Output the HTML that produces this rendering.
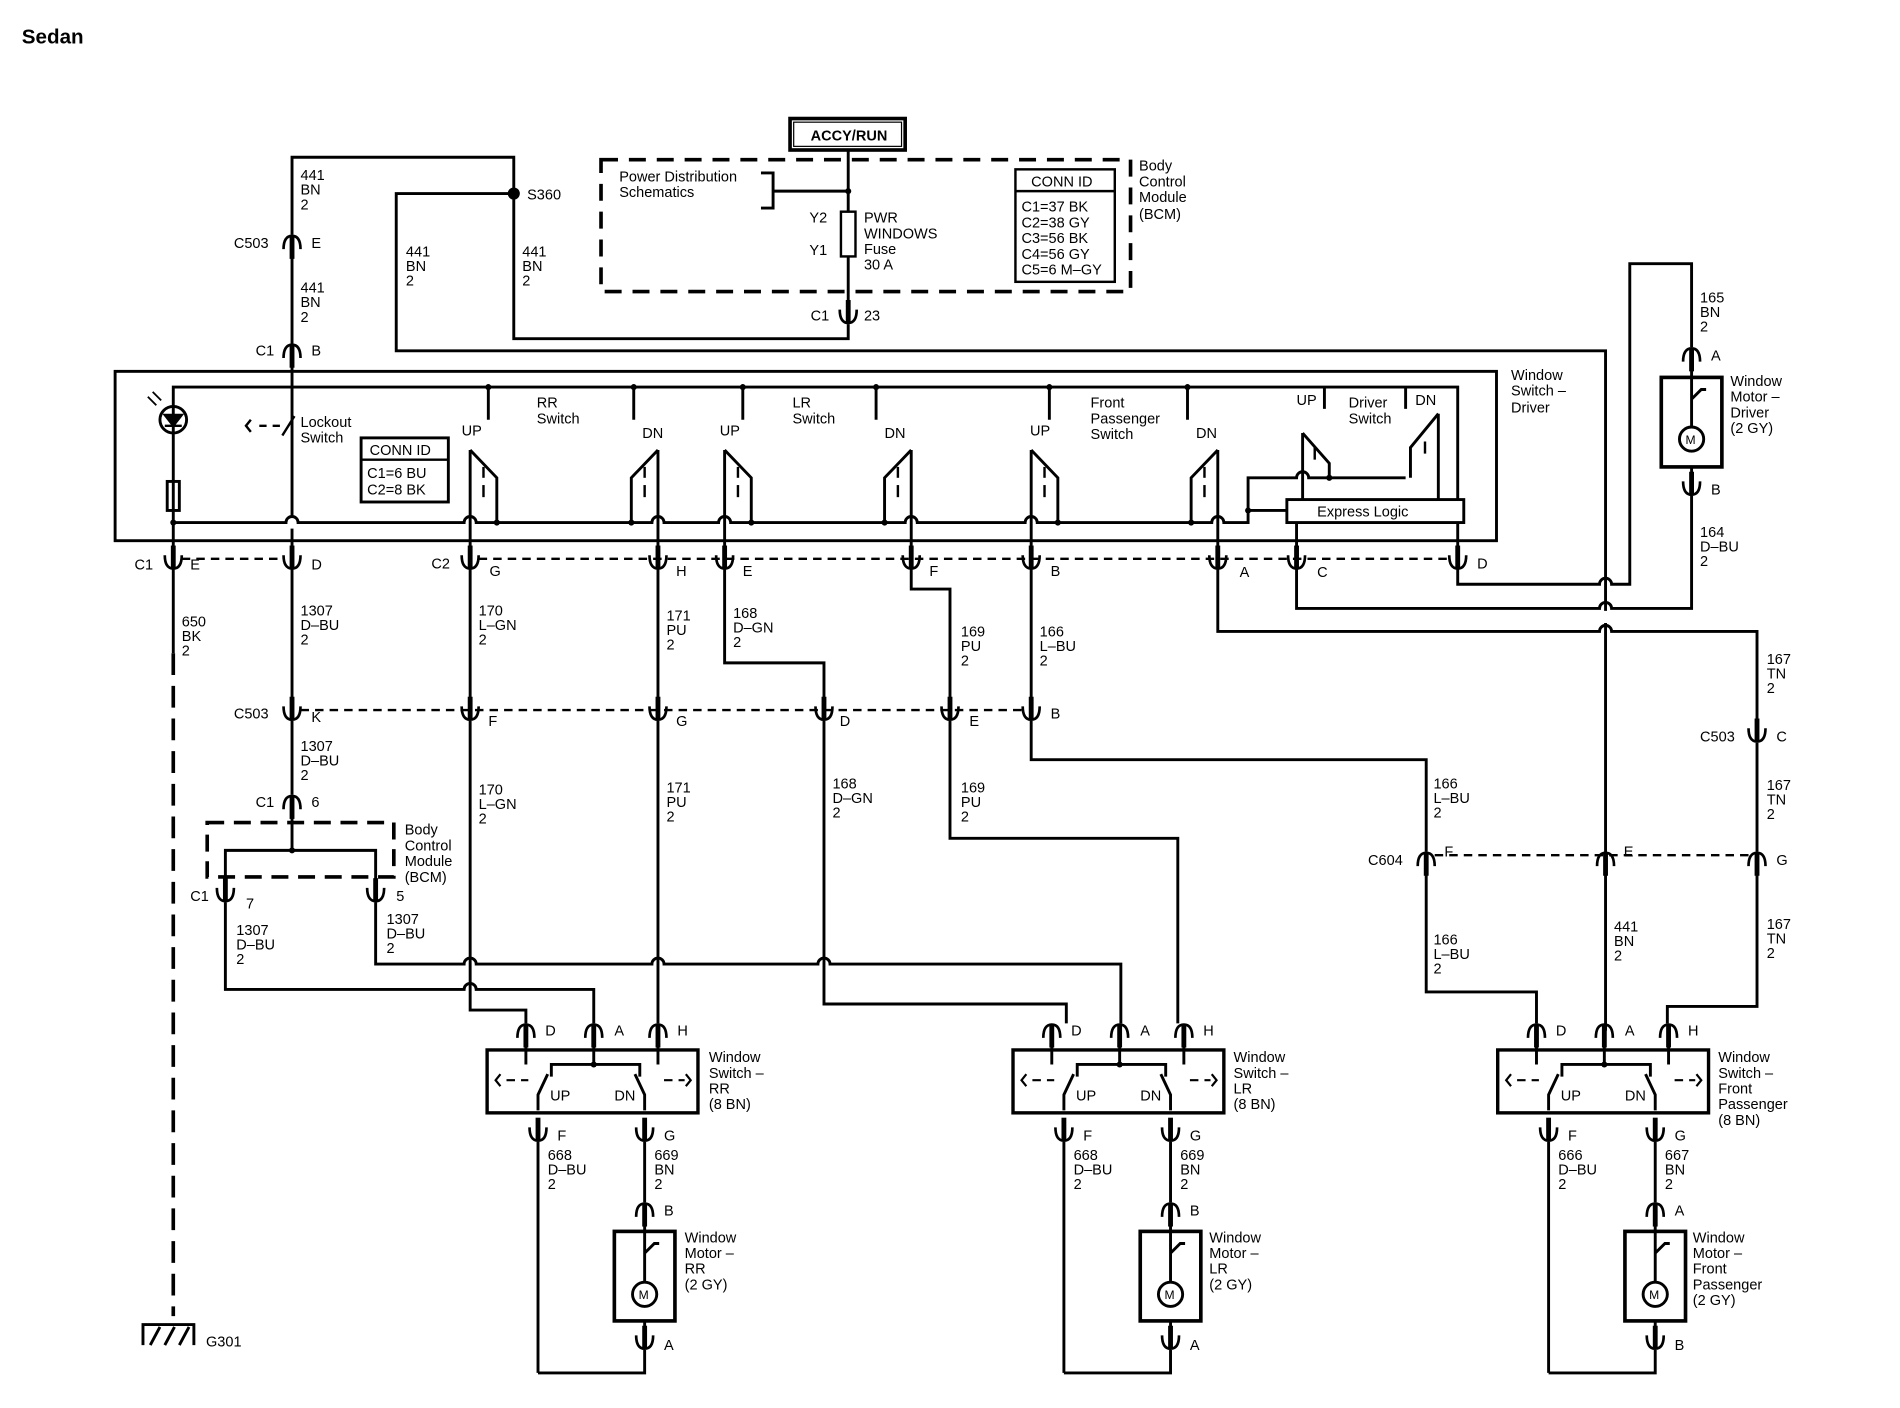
<!DOCTYPE html>
<html><head><meta charset="utf-8"><style>
html,body{margin:0;padding:0;background:#fff;width:1900px;height:1408px;overflow:hidden}
svg{display:block}
text{font-family:"Liberation Sans",sans-serif;font-size:12px;fill:#000}
</style></head><body>
<svg width="1900" height="1408" viewBox="0 0 1568 1164" preserveAspectRatio="none" xmlns="http://www.w3.org/2000/svg">
<defs>
<g id="cu"><path d="M-7,-6 Q-7,5 0,5 Q7,5 7,-6" fill="none" stroke="#000" stroke-width="2.2"/><line x1="0" y1="-14" x2="0" y2="5" stroke="#000" stroke-width="4"/></g>
<g id="cn"><path d="M-7,6 Q-7,-5 0,-5 Q7,-5 7,6" fill="none" stroke="#000" stroke-width="2.2"/><line x1="0" y1="14" x2="0" y2="-5" stroke="#000" stroke-width="4"/></g>
</defs>
<rect width="1568" height="1164" fill="#fff"/>
<text x="18" y="36" style="font-size:17px;font-weight:bold">Sedan</text>

<g fill="none" stroke="#000" stroke-width="2.4">
<path d="M241,194 L241,130 L424,130 L424,280 L700,280 L700,268"/>
<path d="M424,160 L327,160 L327,290 L1325,290 L1325,505"/>
<path d="M1325,515 L1325,852"/>
<line x1="241" y1="206" x2="241" y2="284"/>
<line x1="241" y1="296" x2="241" y2="427"/>
<line x1="241" y1="437" x2="241" y2="459"/>
<rect x="652" y="98" width="95" height="26" stroke-width="3"/>
<rect x="655" y="101" width="89" height="20" stroke-width="1"/>
<line x1="700" y1="124" x2="700" y2="175"/>
<rect x="694" y="175" width="12" height="37" stroke-width="2"/>
<line x1="700" y1="212" x2="700" y2="254"/>
<path d="M628,143 L638,143 L638,172 L628,172"/>
<line x1="638" y1="158" x2="700" y2="158"/>
<rect x="496" y="132" width="437" height="109" stroke-width="3" stroke-dasharray="14,9"/>
<rect x="838" y="140" width="82" height="93" stroke-width="2"/>
<line x1="838" y1="158" x2="920" y2="158" stroke-width="2"/>
<rect x="95" y="307" width="1140" height="140" stroke-width="2.4"/>
<path d="M143,432 L143,320 L1203,320 L1203,413"/>
<line x1="1203" y1="432" x2="1203" y2="459"/>
<path d="M143,432 L236,432 A5,5 0 0 1 246,432 L383,432 A5,5 0 0 1 393,432 L538,432 A5,5 0 0 1 548,432 L593,432 A5,5 0 0 1 603,432 L747,432 A5,5 0 0 1 757,432 L846,432 A5,5 0 0 1 856,432 L1000,432 A5,5 0 0 1 1010,432 L1030,432 L1030,395 L1070,395 A5,5 0 0 1 1080,395 L1160,395"/>
<line x1="1030" y1="422" x2="1062" y2="422"/>
<rect x="1062" y="413" width="146" height="19"/>
<line x1="1070" y1="432" x2="1070" y2="459"/>
<line x1="143" y1="432" x2="143" y2="459"/>
<circle cx="143" cy="347" r="11"/>
<path d="M136,343 L150,343 L143,352 Z M136,352 L150,352" stroke-width="2" fill="#000"/>
<path d="M122,328 L129,335 M126,324 L133,331" stroke-width="1.5"/>
<rect x="138" y="398" width="10" height="24"/>
<path d="M207,347 L203,352 L207,357 M214,352 L220,352 M225,352 L231,352 M233,360 L243,344" stroke-width="2"/>
<rect x="298" y="362" width="72" height="53" stroke-width="2.4"/>
<line x1="298" y1="380" x2="370" y2="380" stroke-width="2"/>
<g><line x1="403" y1="320" x2="403" y2="347"/><path d="M388,372 L410,395 L410,432"/><line x1="388" y1="372" x2="388" y2="459"/><line x1="399" y1="386" x2="399" y2="395" stroke-width="2"/><line x1="399" y1="401" x2="399" y2="411" stroke-width="2"/></g>
<g transform="translate(210,0)"><line x1="403" y1="320" x2="403" y2="347"/><path d="M388,372 L410,395 L410,432"/><line x1="388" y1="372" x2="388" y2="459"/><line x1="399" y1="386" x2="399" y2="395" stroke-width="2"/><line x1="399" y1="401" x2="399" y2="411" stroke-width="2"/></g>
<g transform="translate(463,0)"><line x1="403" y1="320" x2="403" y2="347"/><path d="M388,372 L410,395 L410,432"/><line x1="388" y1="372" x2="388" y2="459"/><line x1="399" y1="386" x2="399" y2="395" stroke-width="2"/><line x1="399" y1="401" x2="399" y2="411" stroke-width="2"/></g>
<g><line x1="523" y1="320" x2="523" y2="347"/><path d="M543,372 L521,395 L521,432"/><line x1="543" y1="372" x2="543" y2="459"/><line x1="532" y1="386" x2="532" y2="395" stroke-width="2"/><line x1="532" y1="401" x2="532" y2="411" stroke-width="2"/></g>
<g transform="translate(209,0)"><line x1="514" y1="320" x2="514" y2="347"/><path d="M543,372 L521,395 L521,432"/><line x1="543" y1="372" x2="543" y2="459"/><line x1="532" y1="386" x2="532" y2="395" stroke-width="2"/><line x1="532" y1="401" x2="532" y2="411" stroke-width="2"/></g>
<g transform="translate(462,0)"><line x1="518" y1="320" x2="518" y2="347"/><path d="M543,372 L521,395 L521,432"/><line x1="543" y1="372" x2="543" y2="459"/><line x1="532" y1="386" x2="532" y2="395" stroke-width="2"/><line x1="532" y1="401" x2="532" y2="411" stroke-width="2"/></g>
<line x1="1093" y1="320" x2="1093" y2="338"/>
<line x1="1160" y1="320" x2="1160" y2="338"/>
<path d="M1075,358 L1097,383 L1097,395"/>
<line x1="1075" y1="358" x2="1075" y2="413"/>
<path d="M1187,342 L1164,370 L1164,395"/>
<line x1="1187" y1="342" x2="1187" y2="413"/>
<line x1="1085" y1="370" x2="1085" y2="380" stroke-width="2"/>
<line x1="1176" y1="365" x2="1176" y2="375" stroke-width="2"/>
<line x1="150" y1="462" x2="234" y2="462" stroke-width="2" stroke-dasharray="7,5"/>
<line x1="395" y1="462" x2="1196" y2="462" stroke-width="2" stroke-dasharray="7,5"/>
<path d="M143,470 L143,540"/>
<path d="M143,540 L143,1088" stroke-width="3" stroke-dasharray="18,9"/>
<path d="M241,470 L241,584"/>
<path d="M241,596 L241,657"/>
<path d="M241,669 L241,703"/>
<rect x="171" y="680" width="154" height="45" stroke-width="3" stroke-dasharray="14,8"/>
<path d="M186,734 L186,703 L310,703 L310,734"/>
<path d="M186,746 L186,818 L383,818 A5,5 0 0 1 393,818 L490,818 L490,846"/>
<path d="M310,746 L310,797 L383,797 A5,5 0 0 1 393,797 L538,797 A5,5 0 0 1 548,797 L675,797 A5,5 0 0 1 685,797 L925,797 L925,846"/>
<path d="M388,470 L388,584 M388,596 L388,835 L434,835 L434,846"/>
<path d="M543,470 L543,584 M543,596 L543,846"/>
<path d="M598,470 L598,548 L680,548 L680,584 M680,596 L680,830 L880,830 L880,846"/>
<path d="M752,470 L752,487 L784,487 L784,584 M784,596 L784,693 L972,693 L972,846"/>
<path d="M851,470 L851,584 M851,596 L851,628 L1177,628 L1177,704 M1177,716 L1177,820 L1268,820 L1268,846"/>
<path d="M1005,470 L1005,522 L1320,522 A5,5 0 0 1 1330,522 L1450,522 L1450,602 M1450,614 L1450,704 M1450,716 L1450,832 L1376,832 L1376,846"/>
<path d="M1070,470 L1070,503 L1320,503 A5,5 0 0 1 1330,503 L1396,503 L1396,410"/>
<path d="M1203,470 L1203,483 L1320,483 A5,5 0 0 1 1330,483 L1345,483 L1345,218 L1396,218 L1396,287"/>
<line x1="1396" y1="299" x2="1396" y2="312"/>
<line x1="1396" y1="386" x2="1396" y2="398"/>
<line x1="248" y1="587" x2="844" y2="587" stroke-width="2" stroke-dasharray="7,5"/>
<line x1="1184" y1="707" x2="1443" y2="707" stroke-width="2" stroke-dasharray="7,5"/>
<rect x="1371" y="312" width="50" height="74" stroke-width="3"/>
<circle cx="1396" cy="363" r="10"/>
<path d="M1396,312 L1396,330 L1404,322 L1408,322 M1396,330 L1396,353"/>
<path d="M118,1112 L118,1095 L160,1095 L160,1112 M124,1112 L132,1097 M136,1112 L144,1097 M148,1112 L156,1097"/>
</g>

<g id="blk" fill="none" stroke="#000" stroke-width="2.4">
<line x1="434" y1="858" x2="434" y2="868"/><line x1="490" y1="858" x2="490" y2="880"/><line x1="543" y1="858" x2="543" y2="868"/>
<rect x="402" y="868" width="174" height="52" stroke-width="2.8"/>
<path d="M455,890 L455,880 L528,880 L528,890"/>
<path d="M434,868 L434,880 M444,918 L444,905 L452,888 M543,868 L543,880 M532,918 L532,905 L524,888"/>
<path d="M413,888 L409,893 L413,898 M418,893 L425,893 M430,893 L436,893 M566,888 L570,893 L566,898 M548,893 L555,893 M560,893 L565,893" stroke-width="1.8"/>
<line x1="444" y1="944" x2="444" y2="1135"/>
<path d="M444,1135 L532,1135 L532,1116"/>
<line x1="532" y1="944" x2="532" y2="994"/>
<line x1="532" y1="1006" x2="532" y2="1018"/>
<line x1="532" y1="1092" x2="532" y2="1104"/>
<rect x="507" y="1018" width="50" height="74" stroke-width="3"/>
<circle cx="532" cy="1070" r="10"/>
<path d="M532,1018 L532,1036 L540,1028 L544,1028 M532,1036 L532,1060"/>
</g>
<use href="#blk" x="434"/>
<use href="#blk" x="834"/>

<g>
<use href="#cn" transform="translate(241,200)"/><use href="#cn" transform="translate(241,290)"/>
<use href="#cu" transform="translate(700,262)"/>
<use href="#cu" transform="translate(143,465)"/><use href="#cu" transform="translate(241,465)"/>
<use href="#cu" transform="translate(388,465)"/><use href="#cu" transform="translate(543,465)"/><use href="#cu" transform="translate(598,465)"/><use href="#cu" transform="translate(752,465)"/><use href="#cu" transform="translate(851,465)"/><use href="#cu" transform="translate(1005,465)"/><use href="#cu" transform="translate(1070,465)"/><use href="#cu" transform="translate(1203,465)"/>
<use href="#cu" transform="translate(241,590)"/><use href="#cu" transform="translate(388,590)"/><use href="#cu" transform="translate(543,590)"/><use href="#cu" transform="translate(680,590)"/><use href="#cu" transform="translate(784,590)"/><use href="#cu" transform="translate(851,590)"/>
<use href="#cn" transform="translate(241,663)"/>
<use href="#cu" transform="translate(186,740)"/><use href="#cu" transform="translate(310,740)"/>
<use href="#cu" transform="translate(1450,608)"/>
<use href="#cn" transform="translate(1177,710)"/><use href="#cn" transform="translate(1325,710)"/><use href="#cn" transform="translate(1450,710)"/>
<use href="#cn" transform="translate(1396,293)"/><use href="#cu" transform="translate(1396,404)"/>
<use href="#cn" transform="translate(434,852)"/><use href="#cn" transform="translate(490,852)"/><use href="#cn" transform="translate(543,852)"/>
<use href="#cn" transform="translate(868,852)"/><use href="#cn" transform="translate(924,852)"/><use href="#cn" transform="translate(977,852)"/>
<use href="#cn" transform="translate(1268,852)"/><use href="#cn" transform="translate(1324,852)"/><use href="#cn" transform="translate(1377,852)"/>
<use href="#cu" transform="translate(444,938)"/><use href="#cu" transform="translate(532,938)"/>
<use href="#cu" transform="translate(878,938)"/><use href="#cu" transform="translate(966,938)"/>
<use href="#cu" transform="translate(1278,938)"/><use href="#cu" transform="translate(1366,938)"/>
<use href="#cn" transform="translate(532,1000)"/><use href="#cu" transform="translate(532,1110)"/>
<use href="#cn" transform="translate(966,1000)"/><use href="#cu" transform="translate(966,1110)"/>
<use href="#cn" transform="translate(1366,1000)"/><use href="#cu" transform="translate(1366,1110)"/>
</g>
<g fill="#000">
<circle cx="424" cy="160" r="5"/><circle cx="700" cy="158" r="2.5"/>
<circle cx="241" cy="703" r="2.5"/>
<circle cx="1030" cy="422" r="2.5"/><circle cx="1097" cy="395" r="2.5"/>
<circle cx="403" cy="320" r="2.5"/><circle cx="523" cy="320" r="2.5"/><circle cx="613" cy="320" r="2.5"/><circle cx="723" cy="320" r="2.5"/><circle cx="866" cy="320" r="2.5"/><circle cx="980" cy="320" r="2.5"/>
<circle cx="410" cy="432" r="2.5"/><circle cx="521" cy="432" r="2.5"/><circle cx="620" cy="432" r="2.5"/><circle cx="730" cy="432" r="2.5"/><circle cx="873" cy="432" r="2.5"/><circle cx="983" cy="432" r="2.5"/>
<circle cx="143" cy="432" r="2.5"/>
<circle cx="490" cy="880" r="2.5"/><circle cx="924" cy="880" r="2.5"/><circle cx="1324" cy="880" r="2.5"/>
</g>

<text x="669" y="116" style="font-size:12px;font-weight:bold">ACCY/RUN</text>
<text x="248" y="149">441</text><text x="248" y="161">BN</text><text x="248" y="173">2</text>
<text x="193" y="205">C503</text><text x="257" y="205">E</text>
<text x="248" y="242">441</text><text x="248" y="254">BN</text><text x="248" y="266">2</text>
<text x="211" y="294">C1</text><text x="257" y="294">B</text>
<text x="335" y="212">441</text><text x="335" y="224">BN</text><text x="335" y="236">2</text>
<text x="431" y="212">441</text><text x="431" y="224">BN</text><text x="431" y="236">2</text>
<text x="435" y="165">S360</text>
<text x="511" y="150">Power Distribution</text><text x="511" y="163">Schematics</text>
<text x="668" y="184">Y2</text><text x="668" y="211">Y1</text>
<text x="713" y="184">PWR</text><text x="713" y="197">WINDOWS</text><text x="713" y="210">Fuse</text><text x="713" y="223">30 A</text>
<text x="851" y="154">CONN ID</text>
<text x="843" y="175">C1=37 BK</text><text x="843" y="188">C2=38 GY</text><text x="843" y="201">C3=56 BK</text><text x="843" y="214">C4=56 GY</text><text x="843" y="227">C5=6 M–GY</text>
<text x="940" y="141">Body</text><text x="940" y="154">Control</text><text x="940" y="167">Module</text><text x="940" y="181">(BCM)</text>
<text x="669" y="265">C1</text><text x="713" y="265">23</text>
<text x="1247" y="314">Window</text><text x="1247" y="327">Switch –</text><text x="1247" y="341">Driver</text>
<text x="248" y="353">Lockout</text><text x="248" y="366">Switch</text>
<text x="305" y="376">CONN ID</text><text x="303" y="395">C1=6 BU</text><text x="303" y="409">C2=8 BK</text>
<text x="443" y="337">RR</text><text x="443" y="350">Switch</text>
<text x="381" y="360">UP</text><text x="530" y="362">DN</text>
<text x="654" y="337">LR</text><text x="654" y="350">Switch</text>
<text x="594" y="360">UP</text><text x="730" y="362">DN</text>
<text x="850" y="360">UP</text><text x="987" y="362">DN</text>
<text x="900" y="337">Front</text><text x="900" y="350">Passenger</text><text x="900" y="363">Switch</text>
<text x="1070" y="335">UP</text><text x="1113" y="337">Driver</text><text x="1113" y="350">Switch</text><text x="1168" y="335">DN</text>
<text x="1087" y="427">Express Logic</text>
<text x="111" y="471">C1</text><text x="157" y="471">E</text><text x="257" y="471">D</text>
<text x="356" y="470">C2</text><text x="404" y="476">G</text><text x="558" y="476">H</text><text x="613" y="476">E</text><text x="767" y="476">F</text><text x="867" y="476">B</text><text x="1023" y="477">A</text><text x="1087" y="477">C</text><text x="1219" y="470">D</text>
<text x="150" y="518">650</text><text x="150" y="530">BK</text><text x="150" y="542">2</text>
<text x="248" y="509">1307</text><text x="248" y="521">D–BU</text><text x="248" y="533">2</text>
<text x="395" y="509">170</text><text x="395" y="521">L–GN</text><text x="395" y="533">2</text>
<text x="550" y="513">171</text><text x="550" y="525">PU</text><text x="550" y="537">2</text>
<text x="605" y="511">168</text><text x="605" y="523">D–GN</text><text x="605" y="535">2</text>
<text x="793" y="526">169</text><text x="793" y="538">PU</text><text x="793" y="550">2</text>
<text x="858" y="526">166</text><text x="858" y="538">L–BU</text><text x="858" y="550">2</text>
<text x="1403" y="250">165</text><text x="1403" y="262">BN</text><text x="1403" y="274">2</text>
<text x="1412" y="298">A</text><text x="1412" y="409">B</text>
<text x="1428" y="319">Window</text><text x="1428" y="332">Motor –</text><text x="1428" y="345">Driver</text><text x="1428" y="358">(2 GY)</text>
<text x="1403" y="444">164</text><text x="1403" y="456">D–BU</text><text x="1403" y="468">2</text>
<text x="1458" y="549">167</text><text x="1458" y="561">TN</text><text x="1458" y="573">2</text>
<text x="193" y="594">C503</text><text x="257" y="597">K</text><text x="403" y="600">F</text><text x="558" y="600">G</text><text x="693" y="600">D</text><text x="800" y="600">E</text><text x="867" y="594">B</text>
<text x="248" y="621">1307</text><text x="248" y="633">D–BU</text><text x="248" y="645">2</text>
<text x="1403" y="613">C503</text><text x="1466" y="613">C</text>
<text x="211" y="667">C1</text><text x="257" y="667">6</text>
<text x="334" y="690">Body</text><text x="334" y="703">Control</text><text x="334" y="716">Module</text><text x="334" y="729">(BCM)</text>
<text x="157" y="745">C1</text><text x="203" y="751">7</text><text x="327" y="745">5</text>
<text x="195" y="773">1307</text><text x="195" y="785">D–BU</text><text x="195" y="797">2</text>
<text x="319" y="764">1307</text><text x="319" y="776">D–BU</text><text x="319" y="788">2</text>
<text x="395" y="657">170</text><text x="395" y="669">L–GN</text><text x="395" y="681">2</text>
<text x="550" y="655">171</text><text x="550" y="667">PU</text><text x="550" y="679">2</text>
<text x="687" y="652">168</text><text x="687" y="664">D–GN</text><text x="687" y="676">2</text>
<text x="793" y="655">169</text><text x="793" y="667">PU</text><text x="793" y="679">2</text>
<text x="1183" y="652">166</text><text x="1183" y="664">L–BU</text><text x="1183" y="676">2</text>
<text x="1458" y="653">167</text><text x="1458" y="665">TN</text><text x="1458" y="677">2</text>
<text x="1129" y="715">C604</text><text x="1192" y="708">F</text><text x="1340" y="708">E</text><text x="1466" y="715">G</text>
<text x="1183" y="781">166</text><text x="1183" y="793">L–BU</text><text x="1183" y="805">2</text>
<text x="1332" y="770">441</text><text x="1332" y="782">BN</text><text x="1332" y="794">2</text>
<text x="1458" y="768">167</text><text x="1458" y="780">TN</text><text x="1458" y="792">2</text>
<text x="450" y="856">D</text><text x="507" y="856">A</text><text x="559" y="856">H</text>
<text x="884" y="856">D</text><text x="941" y="856">A</text><text x="993" y="856">H</text>
<text x="1284" y="856">D</text><text x="1341" y="856">A</text><text x="1393" y="856">H</text>
<text x="454" y="910">UP</text><text x="507" y="910">DN</text>
<text x="888" y="910">UP</text><text x="941" y="910">DN</text>
<text x="1288" y="910">UP</text><text x="1341" y="910">DN</text>
<text x="585" y="878">Window</text><text x="585" y="891">Switch –</text><text x="585" y="904">RR</text><text x="585" y="917">(8 BN)</text>
<text x="1018" y="878">Window</text><text x="1018" y="891">Switch –</text><text x="1018" y="904">LR</text><text x="1018" y="917">(8 BN)</text>
<text x="1418" y="878">Window</text><text x="1418" y="891">Switch –</text><text x="1418" y="904">Front</text><text x="1418" y="917">Passenger</text><text x="1418" y="930">(8 BN)</text>
<text x="460" y="943">F</text><text x="548" y="943">G</text><text x="894" y="943">F</text><text x="982" y="943">G</text><text x="1294" y="943">F</text><text x="1382" y="943">G</text>
<text x="452" y="959">668</text><text x="452" y="971">D–BU</text><text x="452" y="983">2</text>
<text x="540" y="959">669</text><text x="540" y="971">BN</text><text x="540" y="983">2</text>
<text x="886" y="959">668</text><text x="886" y="971">D–BU</text><text x="886" y="983">2</text>
<text x="974" y="959">669</text><text x="974" y="971">BN</text><text x="974" y="983">2</text>
<text x="1286" y="959">666</text><text x="1286" y="971">D–BU</text><text x="1286" y="983">2</text>
<text x="1374" y="959">667</text><text x="1374" y="971">BN</text><text x="1374" y="983">2</text>
<text x="548" y="1005">B</text><text x="982" y="1005">B</text><text x="1382" y="1005">A</text>
<text x="548" y="1116">A</text><text x="982" y="1116">A</text><text x="1382" y="1116">B</text>
<text x="565" y="1027">Window</text><text x="565" y="1040">Motor –</text><text x="565" y="1053">RR</text><text x="565" y="1066">(2 GY)</text>
<text x="998" y="1027">Window</text><text x="998" y="1040">Motor –</text><text x="998" y="1053">LR</text><text x="998" y="1066">(2 GY)</text>
<text x="1397" y="1027">Window</text><text x="1397" y="1040">Motor –</text><text x="1397" y="1053">Front</text><text x="1397" y="1066">Passenger</text><text x="1397" y="1079">(2 GY)</text>
<text x="527" y="1074" style="font-size:10px">M</text><text x="961" y="1074" style="font-size:10px">M</text><text x="1361" y="1074" style="font-size:10px">M</text><text x="1391" y="367" style="font-size:10px">M</text>
<text x="170" y="1113">G301</text>
</svg>
</body></html>
